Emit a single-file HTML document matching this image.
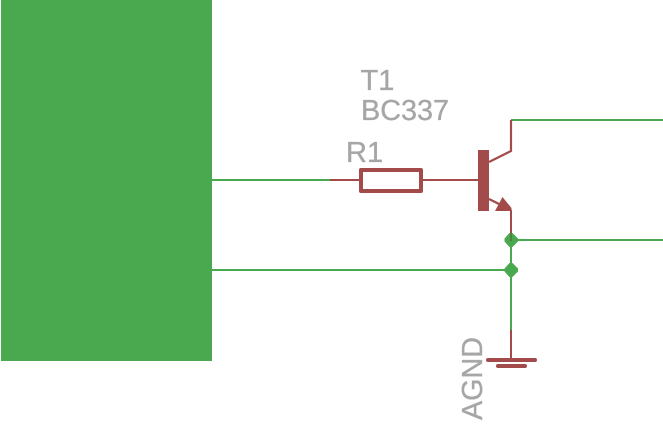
<!DOCTYPE html>
<html>
<head>
<meta charset="utf-8">
<style>
html,body{margin:0;padding:0;background:#fff;width:663px;height:429px;overflow:hidden}
svg{display:block}
text{font-family:"Liberation Sans",sans-serif;font-size:29px;fill:#a6a6a6;stroke:#a6a6a6;stroke-width:.35px;text-rendering:geometricPrecision}
</style>
</head>
<body>
<svg width="663" height="429" viewBox="0 0 663 429" xmlns="http://www.w3.org/2000/svg">
<rect x="1" y="0" width="211" height="361" fill="#4aa84e"/>
<g stroke="#4aa84e" stroke-width="2" fill="none">
<path d="M212 180H330"/>
<path d="M212 270H511"/>
<path d="M511 240H663"/>
<path d="M511 120H663"/>
<path d="M511 240V330"/>
</g>
<g stroke="#a34a4a" fill="none">
<path d="M330 180H361" stroke-width="2"/>
<path d="M421 180H480" stroke-width="2"/>
<rect x="361" y="170" width="60" height="21" stroke-width="4" stroke-linejoin="round"/>
<path d="M489 162L511 151V120" stroke-width="2.2"/>
<path d="M489 199L505 207" stroke-width="2.2"/>
<path d="M511 210V233" stroke-width="2"/>
<path d="M511 330V360" stroke-width="2"/>
<path d="M488 360H535" stroke-width="4" stroke-linecap="round"/>
<path d="M498 366H525" stroke-width="4" stroke-linecap="round"/>
</g>
<rect x="478" y="150" width="11" height="61" fill="#a34a4a"/>
<polygon points="495,211 511.5,211 511.5,208 502.5,197" fill="#a34a4a"/>
<polygon points="509.500,233 512.500,233 518,238.500 518,241.500 512.500,247 509.500,247 504.500,241.500 504.500,238.500" fill="#4aa84e"/>
<polygon points="509.500,263 512.500,263 518,268.500 518,271.500 512.500,277 509.500,277 504.500,271.500 504.500,268.500" fill="#4aa84e"/>
<path d="M511 233V241" stroke="#5a5a30" stroke-width="1"/>
<text x="360.500" y="90">T1</text>
<text x="361" y="120" textLength="88" lengthAdjust="spacingAndGlyphs">BC337</text>
<text x="346" y="162">R1</text>
<text transform="translate(482 420) rotate(-90)" x="0" y="0" textLength="83" lengthAdjust="spacingAndGlyphs">AGND</text>
</svg>
</body>
</html>
